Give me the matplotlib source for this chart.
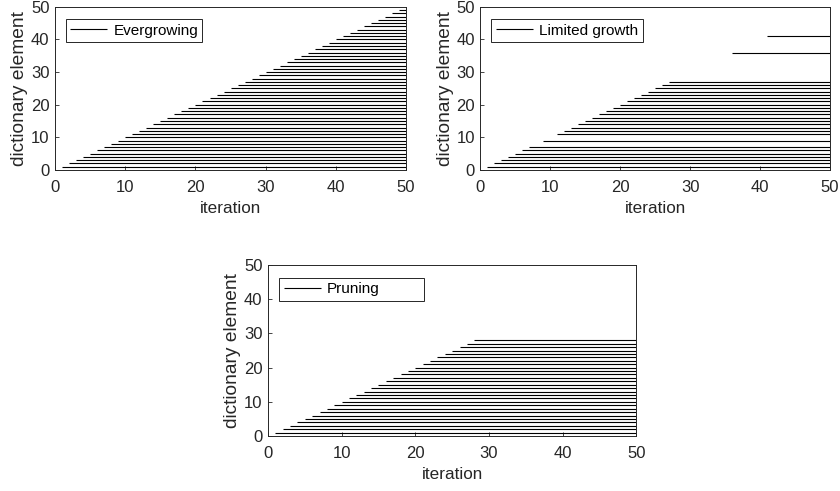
import numpy as np
import matplotlib
matplotlib.use('Agg')
import matplotlib.pyplot as plt

# element index -> iteration at which it entered the dictionary
evergrowing_elements = list(range(1, 50))
evergrowing_start = list(range(1, 50))

limited_elements = [1, 2, 3, 4, 5, 6, 7, 9, 11, 12, 13, 14, 15, 16, 17, 18, 19,
                    20, 21, 22, 23, 24, 25, 26, 27, 36, 41]
limited_start = [1, 2, 3, 4, 5, 6, 7, 9, 11, 12, 13, 14, 15, 16, 17, 18, 19,
                 20, 21, 22, 23, 24, 25, 26, 27, 36, 41]

pruning_elements = list(range(1, 29))
pruning_start = list(range(1, 29))

last_iteration = 50
ticks = [0, 10, 20, 30, 40, 50]

plt.rcParams['font.family'] = ['Liberation Sans', 'DejaVu Sans']
dark = '#262626'


def draw_panel(ax, elements, start, name, leg_width):
    ax.hlines(elements, start, last_iteration, colors='black', linewidth=0.8, label=name)
    ax.set_xlim(0, 50)
    ax.set_ylim(0, 50)
    ax.set_xticks(ticks)
    ax.set_yticks(ticks)
    ax.tick_params(direction='in', length=3, labelsize=12, colors=dark, width=0.6)
    ax.tick_params(axis='x', pad=7)
    ax.tick_params(axis='y', pad=4)
    for sp in ax.spines.values():
        sp.set_color(dark)
        sp.set_linewidth(0.7)
    ax.set_xlabel('iteration', fontsize=12.3, color=dark, labelpad=4.5)
    ax.set_ylabel('dictionary element', fontsize=13.8, color=dark, labelpad=2)
    leg = ax.legend(loc='upper left', fontsize=11, fancybox=False, framealpha=1,
                    handlelength=2.4, borderpad=0.3, handletextpad=0.4,
                    bbox_to_anchor=(0.031, 0.926, leg_width, 0.0), mode='expand',
                    borderaxespad=0)
    leg.get_frame().set_edgecolor(dark)
    leg.get_frame().set_linewidth(0.7)


fig = plt.figure(figsize=(8.4, 4.91), dpi=100)
ax1 = fig.add_axes([0.0655, 0.654, 0.418, 0.332])
ax2 = fig.add_axes([0.572, 0.654, 0.416, 0.332])
ax3 = fig.add_axes([0.319, 0.112, 0.4386, 0.348])

draw_panel(ax1, evergrowing_elements, evergrowing_start, 'Evergrowing', 0.388)
draw_panel(ax2, limited_elements, limited_start, 'Limited growth', 0.433)
draw_panel(ax3, pruning_elements, pruning_start, 'Pruning', 0.392)

fig.savefig('out.png', dpi=100)
